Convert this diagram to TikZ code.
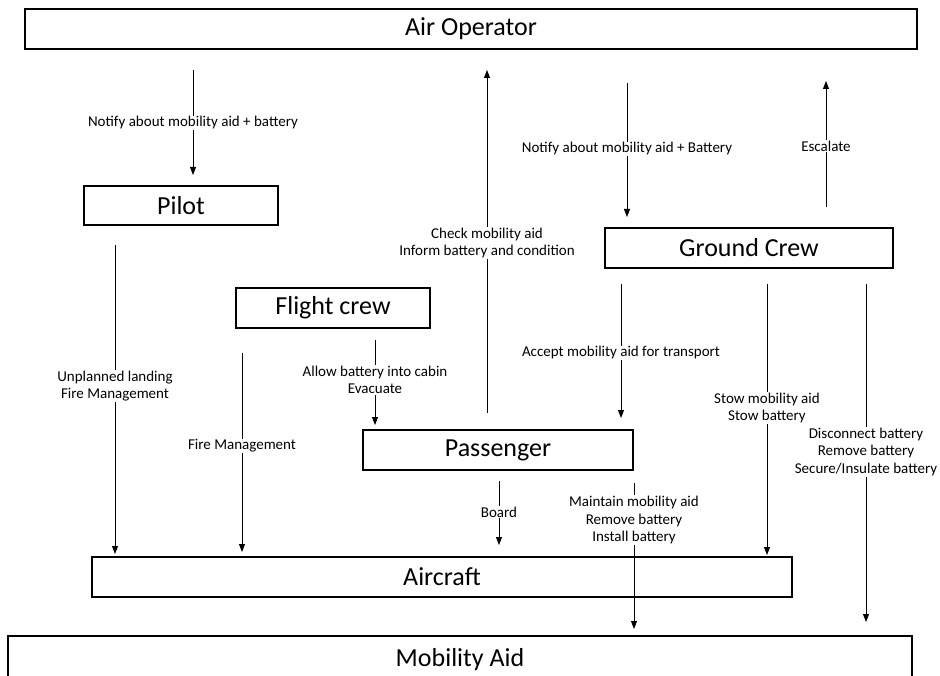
\documentclass[tikz,border=0pt]{standalone}
\usepackage{fontspec}
\setmainfont{Carlito}
\usetikzlibrary{arrows.meta}
\begin{document}
\begin{tikzpicture}[x=1pt,y=-1pt,
 box/.style={draw, line width=1.2pt, inner sep=0pt, font=\fontsize{26}{30}\selectfont},
 arr/.style={line width=0.9pt, -{Triangle[length=8pt,width=6pt]}},
 lbl/.style={fill=white, inner sep=1pt, font=\fontsize{15}{17.5}\selectfont, align=center}]
\useasboundingbox (0,0) rectangle (940,676);
\clip (0,0) rectangle (940,676);
\fill[white] (0,0) rectangle (940,676);
% boxes
\node[box, minimum width=892pt, minimum height=40pt] (air) at (471,29) {Air Operator};
\node[box, minimum width=194pt, minimum height=39pt] (pilot) at (181,205.5) {Pilot};
\node[box, minimum width=194pt, minimum height=40pt] (flight) at (333,308) {Flight crew};
\node[box, minimum width=288pt, minimum height=40pt] (ground) at (749,248) {Ground Crew};
\node[box, minimum width=270pt, minimum height=40pt] (pass) at (498,450) {Passenger};
\node[box, minimum width=700pt, minimum height=40pt] (craft) at (442,577) {Aircraft};
\node[box, minimum width=904pt, minimum height=48pt] (mob) at (460,660) {Mobility Aid};
% connector end points
\coordinate (a1s) at (193,70);  \coordinate (a1e) at (193,175);
\coordinate (a2s) at (115,245); \coordinate (a2e) at (115,554);
\coordinate (a3s) at (242,353); \coordinate (a3e) at (242,552);
\coordinate (a4s) at (375,340); \coordinate (a4e) at (375,425);
\coordinate (a5s) at (487,413); \coordinate (a5e) at (487,70);
\coordinate (a6s) at (627,83);  \coordinate (a6e) at (627,217);
\coordinate (a7s) at (826,207); \coordinate (a7e) at (826,81);
\coordinate (a8s) at (621,284); \coordinate (a8e) at (621,418);
\coordinate (a9s) at (767,284); \coordinate (a9e) at (767,555);
\coordinate (a10s) at (866,284); \coordinate (a10e) at (866,622);
\coordinate (a11s) at (499,481); \coordinate (a11e) at (499,545);
\coordinate (a12s) at (634,483); \coordinate (a12e) at (634,629);
% connectors
\draw[arr] (a1s) -- (a1e);
\draw[arr] (a2s) -- (a2e);
\draw[arr] (a3s) -- (a3e);
\draw[arr] (a4s) -- (a4e);
\draw[arr] (a5s) -- (a5e);
\draw[arr] (a6s) -- (a6e);
\draw[arr] (a7s) -- (a7e);
\draw[arr] (a8s) -- (a8e);
\draw[arr] (a9s) -- (a9e);
\draw[arr] (a10s) -- (a10e);
\draw[arr] (a11s) -- (a11e);
\draw[arr] (a12s) -- (a12e);
% labels
\node[lbl] (l1) at (193,123) {Notify about mobility aid + battery};
\node[lbl] (l2) at (115,386) {Unplanned landing\\Fire Management};
\node[lbl] (l3) at (242,446) {Fire Management};
\node[lbl] (l4) at (375,380) {Allow battery into cabin\\Evacuate};
\node[lbl] (l5) at (487,243) {Check mobility aid\\Inform battery and condition};
\node[lbl] (l6) at (627,149) {Notify about mobility aid + Battery};
\node[lbl] (l7) at (826,146) {Escalate};
\node[lbl] (l8) at (621,353) {Accept mobility aid for transport};
\node[lbl] (l9) at (767,408) {Stow mobility aid\\Stow battery};
\node[lbl] (l10) at (866,452) {Disconnect battery\\Remove battery\\Secure/Insulate battery};
\node[lbl] (l11) at (499,512) {Board};
\node[lbl] (l12) at (634,520) {Maintain mobility aid\\Remove battery\\Install battery};
\end{tikzpicture}
\end{document}
